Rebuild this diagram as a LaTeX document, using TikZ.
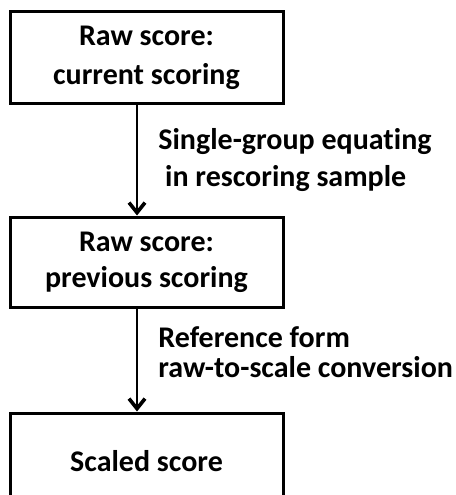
\documentclass[tikz,border=0pt]{standalone}
\usepackage{fontspec}
\setmainfont{Carlito}[Ligatures=NoCommon]
\usetikzlibrary{positioning,arrows.meta}

\begin{document}
\begin{tikzpicture}[
            ->,>={Straight Barb[length=10pt,width=16pt,line width=3.6pt]},
            line width=2.8pt,
            font=\bfseries\fontsize{30}{37}\selectfont,
            box/.style={draw,line width=3pt,minimum width=273pt,align=center},
            lbl/.style={right=20pt,anchor=west,inner sep=0pt,align=left}
        ]
        \useasboundingbox (0,0) rectangle (455pt,-495pt);
        \node[box,minimum height=91pt] (raw1) at (146.5pt,-57.5pt) {Raw score:\\[2pt]current scoring};
        \node[box,minimum height=90pt,below=111pt of raw1] (raw2) {Raw score:\\[-1pt]previous scoring};
        \node[box,minimum height=96pt,below=103pt of raw2] (scaled) {Scaled score};
        \path ([xshift=-9.5pt]raw1.south) edge node[lbl] {Single-group equating\\\ in rescoring sample} ([xshift=-9.5pt]raw2.north)
        ([xshift=-9.5pt]raw2.south) edge node[lbl,yshift=8pt] {Reference form\\[-7pt]raw-to-scale conversion} ([xshift=-9.5pt]scaled.north);
        \end{tikzpicture}
\end{document}
